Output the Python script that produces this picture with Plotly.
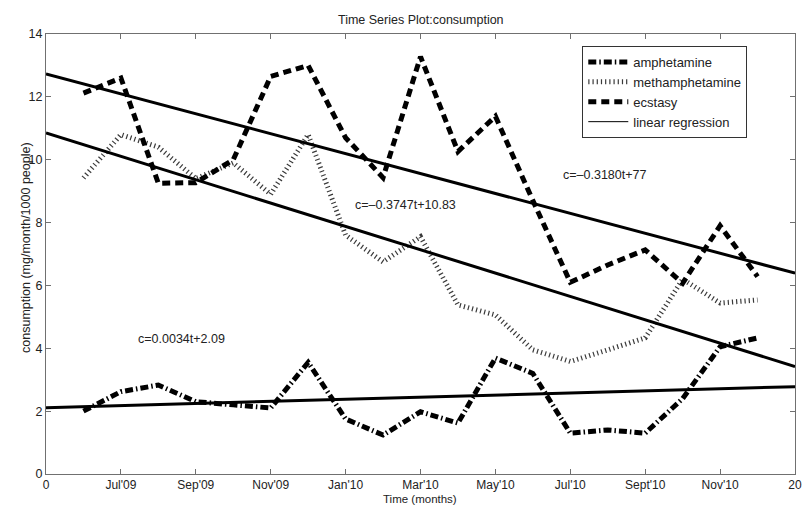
import plotly.graph_objects as go

# ---- data ----
months = list(range(1, 20))  # Jun'09 .. Dec'10 (t index)
amphetamine = [2.0, 2.62, 2.83, 2.3, 2.2, 2.1, 3.55, 1.75, 1.24, 1.98, 1.62, 3.69, 3.2, 1.3, 1.4, 1.3, 2.4, 4.05, 4.33]
methamphetamine = [9.42, 10.8, 10.4, 9.4, 9.9, 8.9, 10.8, 7.6, 6.75, 7.55, 5.38, 5.06, 3.95, 3.58, 3.95, 4.33, 6.2, 5.44, 5.54]
ecstasy = [12.12, 12.6, 9.25, 9.27, 10.0, 12.65, 13.0, 10.7, 9.43, 13.28, 10.26, 11.38, 8.7, 6.1, 6.65, 7.13, 6.07, 7.9, 6.28]

reg_t = [0, 20]
reg_ecstasy = [12.73, 6.39]
reg_meth = [10.85, 3.42]
reg_amph = [2.11, 2.78]

tick_vals = [0, 2, 4, 6, 8, 10, 12, 14, 16, 18, 20]
tick_text = ["0", "Jul'09", "Sep'09", "Nov'09", "Jan'10", "Mar'10", "May'10", "Jul'10", "Sept'10", "Nov'10", "20"]

eq_labels = ["c=\u20130.3747t+10.83", "c=\u20130.3180t+77", "c=0.0034t+2.09"]
eq_x = [9.61, 14.92, 3.61]
eq_y = [8.57, 9.5, 4.3]

FONT = "Liberation Sans, Arial, Helvetica, sans-serif"
TXT = "#222222"
AX = "#707070"

fig = go.Figure()

fig.add_trace(go.Scatter(x=months, y=amphetamine, mode="lines", name="amphetamine",
                         line=dict(color="black", width=5, dash="8px,3px,1.5px,3px")))
fig.add_trace(go.Scatter(x=months, y=methamphetamine, mode="lines", name="methamphetamine",
                         line=dict(color="#3a3a3a", width=5, dash="1.2px,3px")))
fig.add_trace(go.Scatter(x=months, y=ecstasy, mode="lines", name="ecstasy",
                         line=dict(color="black", width=5, dash="8px,5px")))

for ys in (reg_ecstasy, reg_meth, reg_amph):
    fig.add_trace(go.Scatter(x=reg_t, y=ys, mode="lines", showlegend=False,
                             line=dict(color="black", width=3)))
# legend-only entry for regression
fig.add_trace(go.Scatter(x=[None], y=[None], mode="lines", name="linear regression",
                         line=dict(color="black", width=1)))

for t, xx, yy in zip(eq_labels, eq_x, eq_y):
    fig.add_annotation(x=xx, y=yy, xref="x", yref="y", text=t, showarrow=False,
                       font=dict(family=FONT, size=12.5, color=TXT))

fig.add_annotation(x=0.5, y=1.032, xref="paper", yref="paper", text="Time Series Plot:consumption",
                   showarrow=False, yanchor="middle", font=dict(family=FONT, size=12.5, color=TXT))
fig.add_annotation(x=-0.038, y=0.515, xref="paper", yref="paper", text="consumption (mg/month/1000 people)",
                   showarrow=False, textangle=-90, font=dict(family=FONT, size=12.5, color=TXT))
fig.add_annotation(x=0.499, y=-0.056, xref="paper", yref="paper", text="Time (months)",
                   showarrow=False, yanchor="middle", font=dict(family=FONT, size=11.5, color=TXT))

fig.update_layout(
    width=802, height=505,
    margin=dict(l=46, r=7, t=34, b=31),
    paper_bgcolor="white", plot_bgcolor="white",
    font=dict(family=FONT, size=12.5, color=TXT),
    showlegend=True,
    legend=dict(x=0.716, y=0.9727, xanchor="left", yanchor="top",
                bordercolor="#333333", borderwidth=1, bgcolor="white",
                font=dict(family=FONT, size=13, color=TXT),
                itemwidth=40, tracegroupgap=0),
    xaxis=dict(range=[0, 20], tickmode="array", tickvals=tick_vals, ticktext=tick_text,
               showgrid=False, zeroline=False, showline=True, linecolor=AX, linewidth=1,
               mirror="ticks", ticks="inside", ticklen=5, tickcolor=AX, automargin=False,
               tickfont=dict(family=FONT, size=12, color=TXT)),
    yaxis=dict(range=[0, 14], tickmode="linear", tick0=0, dtick=2,
               showgrid=False, zeroline=False, showline=True, linecolor=AX, linewidth=1,
               mirror="ticks", ticks="inside", ticklen=5, tickcolor=AX, automargin=False,
               tickfont=dict(family=FONT, size=12.5, color=TXT)),
)

fig.write_html("out.html", config={"displayModeBar": False},
               post_script="document.body.style.margin='0';document.body.style.overflow='hidden';")
